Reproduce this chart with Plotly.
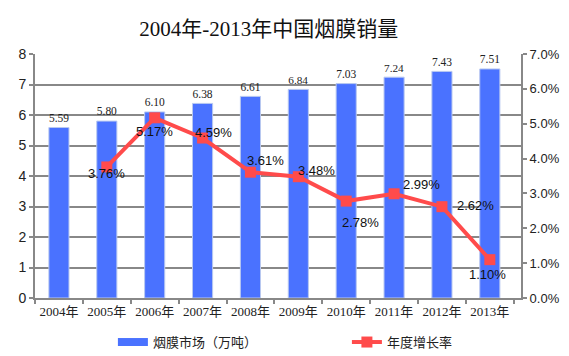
import plotly.graph_objects as go

years = ["2004年", "2005年", "2006年", "2007年", "2008年", "2009年", "2010年", "2011年", "2012年", "2013年"]
market = [5.59, 5.80, 6.10, 6.38, 6.61, 6.84, 7.03, 7.24, 7.43, 7.51]
growth_years = years[1:]
growth = [3.76, 5.17, 4.59, 3.61, 3.48, 2.78, 2.99, 2.62, 1.10]
left_ticks = [0, 1, 2, 3, 4, 5, 6, 7, 8]
right_ticks = [0, 1, 2, 3, 4, 5, 6, 7]

# label offsets (pixels) for the growth-rate labels
label_dx = [0, 0, 11, 15, 18, 14, 27, 34, -2]
label_dy = [-7, -14, 6, 12, 6, -21, 9, 1, -15]

serif = "Liberation Serif, Noto Sans CJK SC, serif"
sans = "Liberation Sans, Arial, Noto Sans CJK SC, sans-serif"
cjk = "Liberation Serif, Noto Sans CJK SC"

BLUE = "#4A72FF"
RED = "#FF4B4B"

fig = go.Figure()
fig.add_trace(go.Bar(
    x=years, y=market, name="烟膜市场（万吨）", showlegend=False,
    marker=dict(color=BLUE, line=dict(color="#B8C8F0", width=1)),
    text=[f"{v:.2f}" for v in market], textposition="outside",
    textfont=dict(family=serif, size=13, color="#222222"),
    cliponaxis=False,
))
# legend proxy for the bar series (wide rectangle swatch)
fig.add_trace(go.Scatter(
    x=[None], y=[None], name="烟膜市场（万吨）", mode="lines",
    line=dict(color=BLUE, width=8),
))
fig.add_trace(go.Scatter(
    x=growth_years, y=growth, name="年度增长率", yaxis="y2",
    mode="lines+markers",
    line=dict(color=RED, width=4),
    marker=dict(symbol="square", size=11, color=RED),
))

for xv, yv, dx, dy in zip(growth_years, growth, label_dx, label_dy):
    fig.add_annotation(
        x=xv, y=yv, yref="y2", text=f"{yv:.2f}%", showarrow=False,
        xshift=dx, yshift=dy,
        font=dict(family=sans, size=13, color="#111111"),
    )

# the page body has an 8px default margin, so the figure is sized to fit inside
fig.update_layout(
    width=561, height=348,
    margin=dict(l=27, r=48, t=46, b=58, autoexpand=False),
    paper_bgcolor="white", plot_bgcolor="white",
    title=dict(text="2004年-2013年中国烟膜销量", x=0.465, xanchor="center", y=0.94, yanchor="middle",
               font=dict(family=cjk, size=21, color="#111111")),
    showlegend=True,
    legend=dict(orientation="h", xref="container", yref="container",
                x=0.187, xanchor="left", y=0.04, yanchor="middle",
                font=dict(family=cjk, size=13, color="#222222"),
                entrywidth=189, entrywidthmode="pixels",
                itemwidth=30, tracegroupgap=0, traceorder="normal",
                bgcolor="rgba(0,0,0,0)"),
    xaxis=dict(
        showline=True, linecolor="#888888", linewidth=2,
        ticks="outside", tickcolor="#888888", ticklen=4, tickwidth=2,
        tickson="boundaries", tickangle=0,
        tickfont=dict(family=cjk, size=13, color="#222222"),
        showgrid=False,
    ),
    yaxis=dict(
        range=[0, 8], tickvals=left_ticks,
        showgrid=True, gridcolor="#888888", gridwidth=2,
        showline=True, linecolor="#888888", linewidth=2,
        ticks="outside", tickcolor="#888888", ticklen=4, tickwidth=2,
        tickfont=dict(family=sans, size=14, color="#222222"),
        zeroline=False,
    ),
    yaxis2=dict(
        range=[0, 7], tickvals=right_ticks,
        ticktext=[f"{v:.1f}%" for v in right_ticks],
        overlaying="y", side="right", showgrid=False,
        showline=True, linecolor="#888888", linewidth=2,
        ticks="outside", tickcolor="#888888", ticklen=4, tickwidth=2,
        tickfont=dict(family=sans, size=13, color="#222222"),
        zeroline=False,
    ),
    bargap=0.58,
)

fig.write_html("out.html")
